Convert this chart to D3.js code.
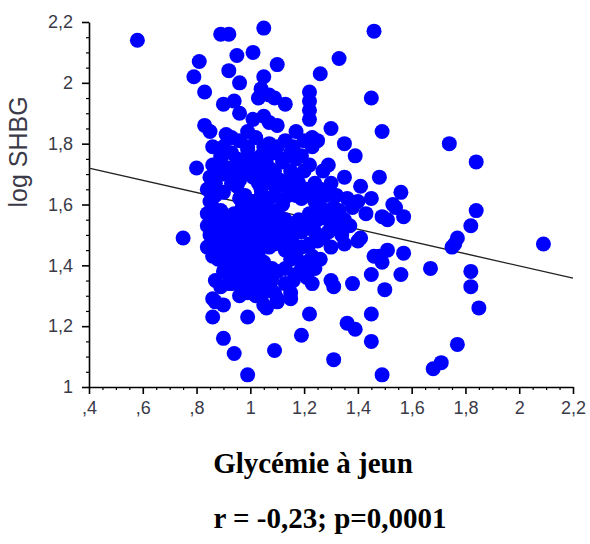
<!DOCTYPE html>
<html>
<head>
<meta charset="utf-8">
<script src="https://cdn.jsdelivr.net/npm/d3@7"></script>
<style>
  html, body { margin: 0; padding: 0; background: #fff; }
  svg { display: block; }
</style>
</head>
<body>
<svg id="chart" width="590" height="544"></svg>
<script>
// Fasting glycaemia vs log SHBG
const xTicks = [0.4, 0.6, 0.8, 1.0, 1.2, 1.4, 1.6, 1.8, 2.0, 2.2];
const xTickLabels = [",4", ",6", ",8", "1", "1,2", "1,4", "1,6", "1,8", "2", "2,2"];
const yTicks = [1.0, 1.2, 1.4, 1.6, 1.8, 2.0, 2.2];
const yTickLabels = ["1", "1,2", "1,4", "1,6", "1,8", "2", "2,2"];
const minorStep = 0.05;

// Least-squares fit: logSHBG = intercept + slope * glycémie
const regression = { intercept: 1.80, slope: -0.201 };

// [glycémie à jeun, log SHBG]
const observations = [
  [0.58,2.14],[0.75,1.49],[0.89,2.16],[0.92,2.16],[1.05,2.18],[1.46,2.17],[0.81,2.07],[0.95,2.09],
  [1.01,2.10],[1.10,2.06],[1.33,2.08],[1.26,2.03],[0.79,2.02],[0.92,2.04],[0.96,2.00],[0.83,1.97],
  [1.05,2.02],[1.04,1.98],[1.07,1.96],[1.03,1.95],[1.09,1.95],[1.13,1.93],[1.22,1.97],[1.22,1.94],
  [1.22,1.91],[1.22,1.88],[1.45,1.95],[0.90,1.93],[0.94,1.94],[0.96,1.90],[0.83,1.86],[0.85,1.84],
  [0.91,1.83],[1.01,1.88],[1.05,1.89],[1.07,1.87],[0.99,1.84],[1.17,1.84],[1.30,1.85],[1.23,1.82],
  [1.25,1.81],[1.49,1.84],[1.35,1.80],[1.39,1.76],[1.48,1.69],[0.90,1.79],[0.89,1.76],[0.80,1.72],
  [1.29,1.73],[1.15,1.77],[1.20,1.81],[1.23,1.79],[1.10,1.86],[1.74,1.80],[1.84,1.74],[1.56,1.64],
  [1.54,1.59],[1.57,1.56],[1.51,1.55],[1.84,1.58],[1.82,1.53],[1.77,1.49],[1.76,1.47],[1.75,1.46],
  [2.09,1.47],[1.51,1.45],[1.49,1.41],[1.57,1.44],[1.67,1.39],[1.82,1.38],[1.82,1.33],[1.85,1.26],
  [1.56,1.37],[1.50,1.32],[1.77,1.14],[1.68,1.06],[1.71,1.08],[1.49,1.04],[0.86,1.23],[0.90,1.16],
  [0.94,1.11],[0.99,1.04],[0.99,1.23],[1.09,1.12],[1.22,1.24],[1.19,1.17],[1.31,1.09],[1.36,1.21],
  [1.39,1.19],[1.45,1.24],[1.45,1.15],[1.38,1.34],[1.45,1.37],[1.40,1.48],[1.46,1.43],[1.49,1.56],
  [1.27,1.49],[1.33,1.57],[1.37,1.53],[1.41,1.49],[1.40,1.61],[1.45,1.62],[1.53,1.60],[1.26,1.65],
  [1.32,1.63],[1.26,1.59],[1.33,1.58],[1.25,1.48],[1.48,1.43],[1.23,1.34],[1.31,1.33],[1.06,1.26],
  [1.10,1.29],[1.15,1.29],[0.86,1.29],[0.87,1.35],[0.97,1.33],[0.84,1.46],[1.30,1.35],[1.21,1.36],
  [1.15,1.31],[1.10,1.28],[0.87,1.28],[0.90,1.27],[0.89,1.33],[0.92,1.34],[0.86,1.43],[1.05,1.27],
  [1.07,1.33],[0.86,1.79],[0.89,1.75],[0.93,1.82],
  [0.96,1.81],[1.02,1.82],[1.07,1.80],[1.13,1.81],
  [0.93,1.77],[0.99,1.78],[1.04,1.76],[1.09,1.77],[1.19,1.76],
  [0.86,1.73],[0.92,1.72],[0.97,1.74],[1.02,1.73],[1.07,1.72],[1.12,1.74],[1.22,1.73],
  [0.85,1.69],[0.90,1.70],[0.96,1.68],[1.01,1.69],[1.06,1.70],[1.11,1.68],[1.17,1.69],[1.35,1.69],
  [0.84,1.65],[0.90,1.64],[0.95,1.66],[1.04,1.65],[1.10,1.66],[1.15,1.64],[1.21,1.65],[1.41,1.66],
  [0.85,1.61],[0.96,1.62],[1.01,1.61],[1.07,1.62],[1.12,1.60],[1.19,1.62],[1.24,1.61],[1.36,1.62],
  [0.84,1.57],[0.89,1.58],[0.94,1.57],[0.99,1.58],[1.04,1.57],[1.10,1.58],[1.22,1.57],[1.28,1.58],[1.43,1.57],
  [0.84,1.53],[0.90,1.54],[0.95,1.53],[1.00,1.54],[1.05,1.53],[1.10,1.54],[1.16,1.53],[1.21,1.54],[1.32,1.53],
  [0.85,1.50],[0.90,1.49],[0.96,1.50],[1.01,1.49],[1.06,1.50],[1.11,1.49],[1.16,1.50],[1.34,1.50],
  [0.87,1.46],[0.92,1.45],[0.97,1.46],[1.02,1.45],[1.07,1.46],[1.13,1.45],[1.19,1.46],[1.30,1.46],
  [0.88,1.42],[0.93,1.41],[0.99,1.42],[1.05,1.41],[1.15,1.42],[1.21,1.41],[1.26,1.42],
  [0.90,1.38],[0.95,1.37],[1.00,1.38],[1.05,1.37],[1.10,1.38],[1.17,1.37],
  [0.93,1.34],[1.02,1.34],[1.13,1.34],
  [0.96,1.30],[1.02,1.30],
  [0.99,1.79],[1.05,1.79],[1.10,1.79],[1.16,1.79],
  [0.95,1.75],[1.01,1.75],[1.06,1.75],[1.12,1.75],[1.17,1.75],
  [0.88,1.71],[0.94,1.71],[0.99,1.71],[1.04,1.71],[1.09,1.71],[1.15,1.71],[1.20,1.71],[1.27,1.71],
  [0.87,1.67],[0.93,1.67],[1.03,1.67],[1.08,1.67],[1.13,1.67],[1.18,1.67],[1.24,1.67],[1.30,1.67],
  [0.87,1.63],[0.98,1.63],[1.04,1.63],[1.09,1.63],[1.14,1.63],[1.17,1.63],[1.22,1.63],[1.28,1.63],
  [0.86,1.59],[0.97,1.59],[1.02,1.59],[1.06,1.59],[1.31,1.59],[1.38,1.59],
  [0.86,1.55],[0.92,1.55],[0.97,1.55],[1.02,1.55],[1.07,1.55],[1.13,1.55],[1.18,1.55],[1.25,1.55],[1.29,1.55],[1.35,1.55],
  [0.87,1.51],[0.92,1.51],[0.98,1.51],[1.03,1.51],[1.08,1.51],[1.13,1.51],[1.19,1.51],[1.24,1.51],[1.29,1.51],
  [0.88,1.47],[0.94,1.47],[0.99,1.47],[1.04,1.47],[1.09,1.47],[1.15,1.47],[1.22,1.47],[1.35,1.47],
  [0.90,1.43],[0.95,1.43],[1.00,1.43],[1.03,1.43],[1.17,1.43],[1.23,1.43],
  [0.92,1.39],[0.97,1.39],[1.02,1.39],[1.08,1.39],[1.13,1.39],[1.19,1.39],[1.24,1.39],
  [0.94,1.35],[0.98,1.35],[1.04,1.35],[1.08,1.35],[1.16,1.35],
  [0.99,1.31],[1.05,1.31],[1.09,1.31]
];

const xTitle = "Glycémie à jeun";
const yTitle = "log SHBG";
const statsText = "r = -0,23; p=0,0001";

const svg = d3.select("#chart");
const x = d3.scaleLinear().domain([0.4, 2.2]).range([89, 573]);
const y = d3.scaleLinear().domain([1.0, 2.2]).range([387, 22]);

const minorX = d3.range(0.4, 2.2001, minorStep).filter(v => Math.abs(v * 5 - Math.round(v * 5)) > 1e-6);
const minorY = d3.range(1.0, 2.2001, minorStep).filter(v => Math.abs(v * 5 - Math.round(v * 5)) > 1e-6);

// minor ticks
svg.append("g").attr("transform", "translate(0,387)")
  .call(d3.axisBottom(x).tickValues(minorX).tickSize(3).tickFormat(""))
  .call(g => g.select(".domain").remove())
  .call(g => g.selectAll("line").attr("stroke", "#000").attr("stroke-width", 1.2));
svg.append("g").attr("transform", "translate(89,0)")
  .call(d3.axisLeft(y).tickValues(minorY).tickSize(3).tickFormat(""))
  .call(g => g.select(".domain").remove())
  .call(g => g.selectAll("line").attr("stroke", "#000").attr("stroke-width", 1.2));

// major axes
const xAxis = svg.append("g").attr("transform", "translate(0,387)")
  .call(d3.axisBottom(x).tickValues(xTicks).tickSizeInner(7).tickSizeOuter(0).tickPadding(7)
    .tickFormat((d, i) => xTickLabels[i]));
const yAxis = svg.append("g").attr("transform", "translate(89,0)")
  .call(d3.axisLeft(y).tickValues(yTicks).tickSizeInner(7).tickSizeOuter(0).tickPadding(9)
    .tickFormat((d, i) => yTickLabels[i]));
[xAxis, yAxis].forEach(g => {
  g.select(".domain").attr("stroke", "#000").attr("stroke-width", 1.6);
  g.selectAll(".tick line").attr("stroke", "#000").attr("stroke-width", 1.6);
  g.selectAll(".tick text")
    .attr("fill", "#3a3a48")
    .style("font-family", "'Liberation Sans', Arial, sans-serif")
    .style("font-size", "18px");
});

// regression line
const xd = x.domain();
svg.append("line")
  .attr("x1", x(xd[0])).attr("y1", y(regression.intercept + regression.slope * xd[0]))
  .attr("x2", x(xd[1])).attr("y2", y(regression.intercept + regression.slope * xd[1]))
  .attr("stroke", "#222").attr("stroke-width", 1.4);

// observations
svg.append("g").selectAll("circle").data(observations).join("circle")
  .attr("cx", d => x(d[0])).attr("cy", d => y(d[1])).attr("r", 7.5)
  .attr("fill", "#0000ff");

// titles
svg.append("text")
  .attr("transform", "translate(27,152) rotate(-90)")
  .attr("text-anchor", "middle")
  .attr("fill", "#3a3a48")
  .style("font-family", "'Liberation Sans', Arial, sans-serif")
  .style("font-size", "25px")
  .text(yTitle);

svg.append("text")
  .attr("x", 313).attr("y", 473)
  .attr("text-anchor", "middle")
  .style("font-family", "'Liberation Serif', 'Times New Roman', serif")
  .style("font-weight", "bold")
  .style("font-size", "29px")
  .text(xTitle);

svg.append("text")
  .attr("x", 330).attr("y", 528)
  .attr("text-anchor", "middle")
  .style("font-family", "'Liberation Serif', 'Times New Roman', serif")
  .style("font-weight", "bold")
  .style("font-size", "29px")
  .text(statsText);
</script>
</body>
</html>
